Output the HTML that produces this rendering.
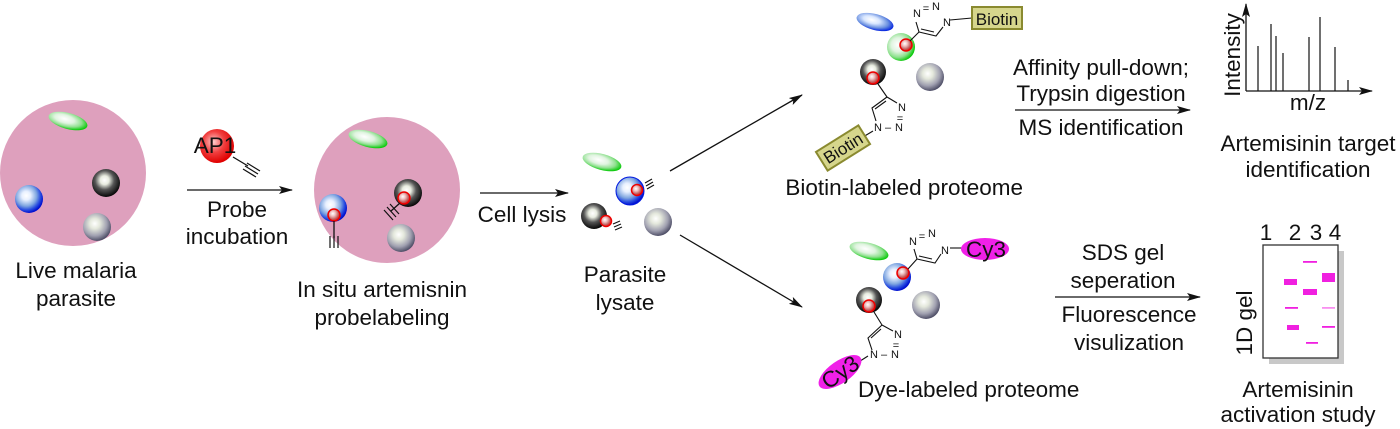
<!DOCTYPE html>
<html><head><meta charset="utf-8"><style>
html,body{margin:0;padding:0;background:#fff;}
svg{display:block;}
text{font-family:"Liberation Sans",Arial,sans-serif;font-size:22.5px;fill:#111;}
.n{font-size:11px;}
</style></head><body>
<svg width="1400" height="429" viewBox="0 0 1400 429" xmlns="http://www.w3.org/2000/svg">
<defs>
<radialGradient id="gBlue" cx="0.4" cy="0.38" r="0.62"><stop offset="0" stop-color="#fff"/><stop offset="0.25" stop-color="#e8f0ff"/><stop offset="0.6" stop-color="#7fa6e0"/><stop offset="0.82" stop-color="#2a4fe0"/><stop offset="1" stop-color="#0010d0"/></radialGradient>
<radialGradient id="gBlack" cx="0.45" cy="0.4" r="0.62"><stop offset="0" stop-color="#fff"/><stop offset="0.25" stop-color="#e8ece0"/><stop offset="0.55" stop-color="#555"/><stop offset="1" stop-color="#000"/></radialGradient>
<radialGradient id="gGray" cx="0.42" cy="0.38" r="0.62"><stop offset="0" stop-color="#fff"/><stop offset="0.3" stop-color="#e4e8dc"/><stop offset="0.7" stop-color="#a0a0b0"/><stop offset="1" stop-color="#505068"/></radialGradient>
<radialGradient id="gGreen" cx="0.4" cy="0.42" r="0.62"><stop offset="0" stop-color="#fff"/><stop offset="0.4" stop-color="#e0f4e0"/><stop offset="0.72" stop-color="#8ee08e"/><stop offset="1" stop-color="#00c800"/></radialGradient>
<radialGradient id="gBlueE" cx="0.4" cy="0.42" r="0.62"><stop offset="0" stop-color="#fff"/><stop offset="0.35" stop-color="#d8e6ff"/><stop offset="0.72" stop-color="#6a90e0"/><stop offset="1" stop-color="#0020e0"/></radialGradient>
<radialGradient id="gRed" cx="0.4" cy="0.38" r="0.62"><stop offset="0" stop-color="#fff"/><stop offset="0.35" stop-color="#f0c0c0"/><stop offset="0.75" stop-color="#c06060"/><stop offset="1" stop-color="#ee1010"/></radialGradient>
<radialGradient id="gRedBig" cx="0.4" cy="0.38" r="0.62"><stop offset="0" stop-color="#ffd0d0"/><stop offset="0.5" stop-color="#f04040"/><stop offset="1" stop-color="#e00000"/></radialGradient>
<marker id="ah" markerWidth="14" markerHeight="8" refX="13" refY="4" orient="auto" markerUnits="userSpaceOnUse"><path d="M0,0 L14,4 L0,8 L3,4 Z" fill="#111"/></marker>
</defs>

<circle cx="73" cy="173" r="73" fill="#dea0bd"/>
<ellipse cx="68" cy="121" rx="20" ry="8" transform="rotate(15 68 121)" fill="url(#gGreen)"/>
<circle cx="29" cy="199" r="14" fill="url(#gBlue)"/>
<circle cx="106" cy="183" r="14" fill="url(#gBlack)"/>
<circle cx="97" cy="227" r="14" fill="url(#gGray)"/>
<text x="76" y="278" text-anchor="middle">Live malaria</text>
<text x="76" y="306" text-anchor="middle">parasite</text>

<circle cx="217" cy="146" r="17" fill="url(#gRedBig)"/>
<text x="215" y="153" text-anchor="middle">AP1</text>
<line x1="233" y1="157" x2="248" y2="166" stroke="#111" stroke-width="1.3"/>
<g stroke="#111" stroke-width="1.2"><line x1="247" y1="163" x2="260" y2="171"/><line x1="245" y1="166" x2="258" y2="174"/><line x1="243" y1="169" x2="256" y2="177"/></g>
<line x1="187" y1="190" x2="292" y2="190" stroke="#111" stroke-width="1.3" marker-end="url(#ah)"/>
<text x="237" y="217" text-anchor="middle">Probe</text>
<text x="237" y="244" text-anchor="middle">incubation</text>

<circle cx="387" cy="190" r="73" fill="#dea0bd"/>
<ellipse cx="368" cy="139" rx="20" ry="8" transform="rotate(15 368 139)" fill="url(#gGreen)"/>
<circle cx="333" cy="208" r="14" fill="url(#gBlue)"/>
<circle cx="334" cy="215" r="6" fill="url(#gRed)" stroke="#e00" stroke-width="1.5"/>
<line x1="334" y1="221" x2="334" y2="238" stroke="#111" stroke-width="1.3"/>
<g stroke="#111" stroke-width="1.2"><line x1="330" y1="236" x2="330" y2="248"/><line x1="334" y1="236" x2="334" y2="248"/><line x1="338" y1="236" x2="338" y2="248"/></g>
<circle cx="408" cy="193" r="14" fill="url(#gBlack)"/>
<circle cx="404" cy="198" r="6" fill="url(#gRed)" stroke="#e00" stroke-width="1.5"/>
<line x1="400" y1="203" x2="391" y2="211" stroke="#111" stroke-width="1.3"/>
<g stroke="#111" stroke-width="1.2"><line x1="384" y1="210" x2="393" y2="220"/><line x1="387" y1="207" x2="396" y2="217"/><line x1="390" y1="204" x2="399" y2="214"/></g>
<circle cx="401" cy="238" r="14" fill="url(#gGray)"/>
<text x="382" y="297" text-anchor="middle">In situ artemisnin</text>
<text x="382" y="325" text-anchor="middle">probelabeling</text>

<line x1="480" y1="193" x2="568" y2="193" stroke="#111" stroke-width="1.3" marker-end="url(#ah)"/>
<text x="522" y="222" text-anchor="middle">Cell lysis</text>
<ellipse cx="602" cy="162" rx="20" ry="8" transform="rotate(15 602 162)" fill="url(#gGreen)"/>
<circle cx="630" cy="191" r="14" fill="url(#gBlue)" stroke="#0018e0" stroke-width="1"/>
<circle cx="637" cy="190" r="5.5" fill="url(#gRed)" stroke="#e00" stroke-width="1.5"/>
<g stroke="#111" stroke-width="1.1"><line x1="645" y1="183" x2="652" y2="179"/><line x1="646" y1="186" x2="653" y2="182"/><line x1="647" y1="189" x2="654" y2="185"/></g>
<circle cx="594" cy="216" r="13" fill="url(#gBlack)"/>
<circle cx="606" cy="221" r="5.5" fill="url(#gRed)" stroke="#e00" stroke-width="1.5"/>
<g stroke="#111" stroke-width="1.1"><line x1="613" y1="224" x2="620" y2="221"/><line x1="614" y1="227" x2="621" y2="224"/><line x1="615" y1="230" x2="622" y2="227"/></g>
<circle cx="658" cy="222" r="14" fill="url(#gGray)"/>
<text x="625" y="282" text-anchor="middle">Parasite</text>
<text x="625" y="310" text-anchor="middle">lysate</text>
<line x1="670" y1="171" x2="802" y2="95" stroke="#111" stroke-width="1.3" marker-end="url(#ah)"/>
<line x1="680" y1="235" x2="802" y2="307" stroke="#111" stroke-width="1.3" marker-end="url(#ah)"/>

<ellipse cx="875" cy="22" rx="19" ry="8" transform="rotate(15 875 22)" fill="url(#gBlueE)"/>
<circle cx="901" cy="47" r="14" fill="url(#gGreen)"/>
<circle cx="906" cy="45" r="6" fill="url(#gRed)" stroke="#e00" stroke-width="1.5"/>
<circle cx="873" cy="72" r="13" fill="url(#gBlack)"/>
<circle cx="873" cy="78" r="6" fill="url(#gRed)" stroke="#e00" stroke-width="1.5"/>
<circle cx="930" cy="77" r="14" fill="url(#gGray)"/>
<g stroke="#111" stroke-width="1.1" fill="none">
<line x1="910" y1="41" x2="919" y2="32"/>
<polyline points="919,32 936,36 943,27"/><line x1="921" y1="29" x2="934" y2="32"/>
<line x1="919" y1="32" x2="916" y2="22"/>
<line x1="950" y1="20" x2="972" y2="18"/>
<line x1="878" y1="84" x2="887" y2="97"/>
<polyline points="887,97 872,108 876,121"/><line x1="886" y1="101" x2="875" y2="109"/>
<line x1="887" y1="97" x2="897" y2="103"/>
<line x1="873" y1="131" x2="863" y2="137"/>
</g>
<text class="n" x="917" y="17" text-anchor="middle">N</text>
<text class="n" x="926" y="12" text-anchor="middle">=</text>
<text class="n" x="936" y="10" text-anchor="middle">N</text>
<text class="n" x="947" y="26" text-anchor="middle">N</text>
<text class="n" x="902" y="111" text-anchor="middle">N</text>
<text class="n" x="900" y="122" text-anchor="middle">=</text>
<text class="n" x="899" y="131" text-anchor="middle">N</text>
<text class="n" x="888" y="131" text-anchor="middle">–</text>
<text class="n" x="878" y="131" text-anchor="middle">N</text>
<rect x="972" y="7" width="50" height="22" fill="#d6d68c" stroke="#8a8a30" stroke-width="2"/>
<text x="997" y="25" text-anchor="middle" style="font-size:17px">Biotin</text>
<g transform="translate(843 148) rotate(-32)">
<rect x="-25" y="-11" width="50" height="22" fill="#d6d68c" stroke="#8a8a30" stroke-width="2"/>
<text x="0" y="6" text-anchor="middle" style="font-size:17px">Biotin</text>
</g>
<text x="1023" y="195" text-anchor="end">Biotin-labeled proteome</text>

<text x="1101" y="75" text-anchor="middle">Affinity pull-down;</text>
<text x="1101" y="101" text-anchor="middle">Trypsin digestion</text>
<line x1="1015" y1="110" x2="1190" y2="110" stroke="#111" stroke-width="1.3" marker-end="url(#ah)"/>
<text x="1101" y="135" text-anchor="middle">MS identification</text>

<line x1="1246" y1="91" x2="1246" y2="4" stroke="#111" stroke-width="1.3" marker-end="url(#ah)"/>
<line x1="1246" y1="91" x2="1372" y2="91" stroke="#111" stroke-width="1.3" marker-end="url(#ah)"/>
<g stroke="#111" stroke-width="1.2">
<line x1="1258" y1="91" x2="1258" y2="46"/><line x1="1271" y1="91" x2="1271" y2="24"/><line x1="1276" y1="91" x2="1276" y2="36"/><line x1="1283" y1="91" x2="1283" y2="53"/><line x1="1309" y1="91" x2="1309" y2="37"/><line x1="1320" y1="91" x2="1320" y2="17"/><line x1="1335" y1="91" x2="1335" y2="47"/><line x1="1348" y1="91" x2="1348" y2="80"/>
</g>
<text transform="translate(1240 55) rotate(-90)" text-anchor="middle">Intensity</text>
<text x="1308" y="110" text-anchor="middle">m/z</text>
<text x="1308" y="151" text-anchor="middle">Artemisinin target</text>
<text x="1308" y="177" text-anchor="middle">identification</text>

<ellipse cx="869" cy="251" rx="20" ry="8" transform="rotate(15 869 251)" fill="url(#gGreen)"/>
<circle cx="897" cy="277" r="14" fill="url(#gBlue)"/>
<circle cx="903" cy="273" r="6" fill="url(#gRed)" stroke="#e00" stroke-width="1.5"/>
<circle cx="869" cy="300" r="13" fill="url(#gBlack)"/>
<circle cx="869" cy="306" r="6" fill="url(#gRed)" stroke="#e00" stroke-width="1.5"/>
<circle cx="926" cy="305" r="14" fill="url(#gGray)"/>
<g stroke="#111" stroke-width="1.1" fill="none">
<line x1="908" y1="269" x2="917" y2="259"/>
<polyline points="917,259 935,263 941,254"/><line x1="919" y1="256" x2="932" y2="259"/>
<line x1="917" y1="259" x2="914" y2="249"/>
<line x1="950" y1="248" x2="962" y2="248"/>
<line x1="874" y1="312" x2="882" y2="325"/>
<polyline points="882,325 868,338 872,350"/><line x1="881" y1="329" x2="871" y2="338"/>
<line x1="882" y1="325" x2="893" y2="331"/>
<line x1="868" y1="356" x2="857" y2="363"/>
</g>
<text class="n" x="913" y="245" text-anchor="middle">N</text>
<text class="n" x="922" y="240" text-anchor="middle">=</text>
<text class="n" x="932" y="237" text-anchor="middle">N</text>
<text class="n" x="945" y="254" text-anchor="middle">N</text>
<text class="n" x="898" y="338" text-anchor="middle">N</text>
<text class="n" x="896" y="349" text-anchor="middle">=</text>
<text class="n" x="895" y="358" text-anchor="middle">N</text>
<text class="n" x="884" y="358" text-anchor="middle">–</text>
<text class="n" x="874" y="358" text-anchor="middle">N</text>
<ellipse cx="985" cy="249" rx="24" ry="11" fill="#f020e8"/>
<text x="986" y="257" text-anchor="middle">Cy3</text>
<g transform="translate(840 372) rotate(-35)">
<ellipse cx="0" cy="0" rx="25" ry="11" fill="#f020e8"/>
<text x="0" y="8" text-anchor="middle">Cy3</text>
</g>
<text x="858" y="397">Dye-labeled proteome</text>

<text x="1123" y="260" text-anchor="middle">SDS gel</text>
<text x="1123" y="288" text-anchor="middle">seperation</text>
<line x1="1055" y1="297" x2="1200" y2="297" stroke="#111" stroke-width="1.3" marker-end="url(#ah)"/>
<text x="1129" y="322" text-anchor="middle">Fluorescence</text>
<text x="1129" y="350" text-anchor="middle">visulization</text>

<rect x="1269" y="251" width="75" height="113" fill="#c8c8c8"/>
<rect x="1263" y="245" width="75" height="113" fill="#fff" stroke="#333" stroke-width="1.3"/>
<text x="1266" y="240" text-anchor="middle">1</text>
<text x="1295" y="240" text-anchor="middle">2</text>
<text x="1316" y="240" text-anchor="middle">3</text>
<text x="1335" y="240" text-anchor="middle">4</text>
<g fill="#f020e0">
<rect x="1284" y="279" width="13" height="6"/>
<rect x="1303" y="289" width="14" height="6"/>
<rect x="1322" y="273" width="13" height="9"/>
<rect x="1287" y="325" width="12" height="5"/>
<rect x="1303" y="261" width="14" height="1.8"/>
<rect x="1285" y="307" width="13" height="1.8"/>
<rect x="1322" y="307" width="13" height="1.8" fill="#f890f0"/>
<rect x="1322" y="326" width="13" height="1.8"/>
<rect x="1306" y="342" width="12" height="1.8"/>
</g>
<text transform="translate(1252 323) rotate(-90)" text-anchor="middle">1D gel</text>
<text x="1298" y="397" text-anchor="middle">Artemisinin</text>
<text x="1298" y="422" text-anchor="middle">activation study</text>
</svg>
</body></html>
